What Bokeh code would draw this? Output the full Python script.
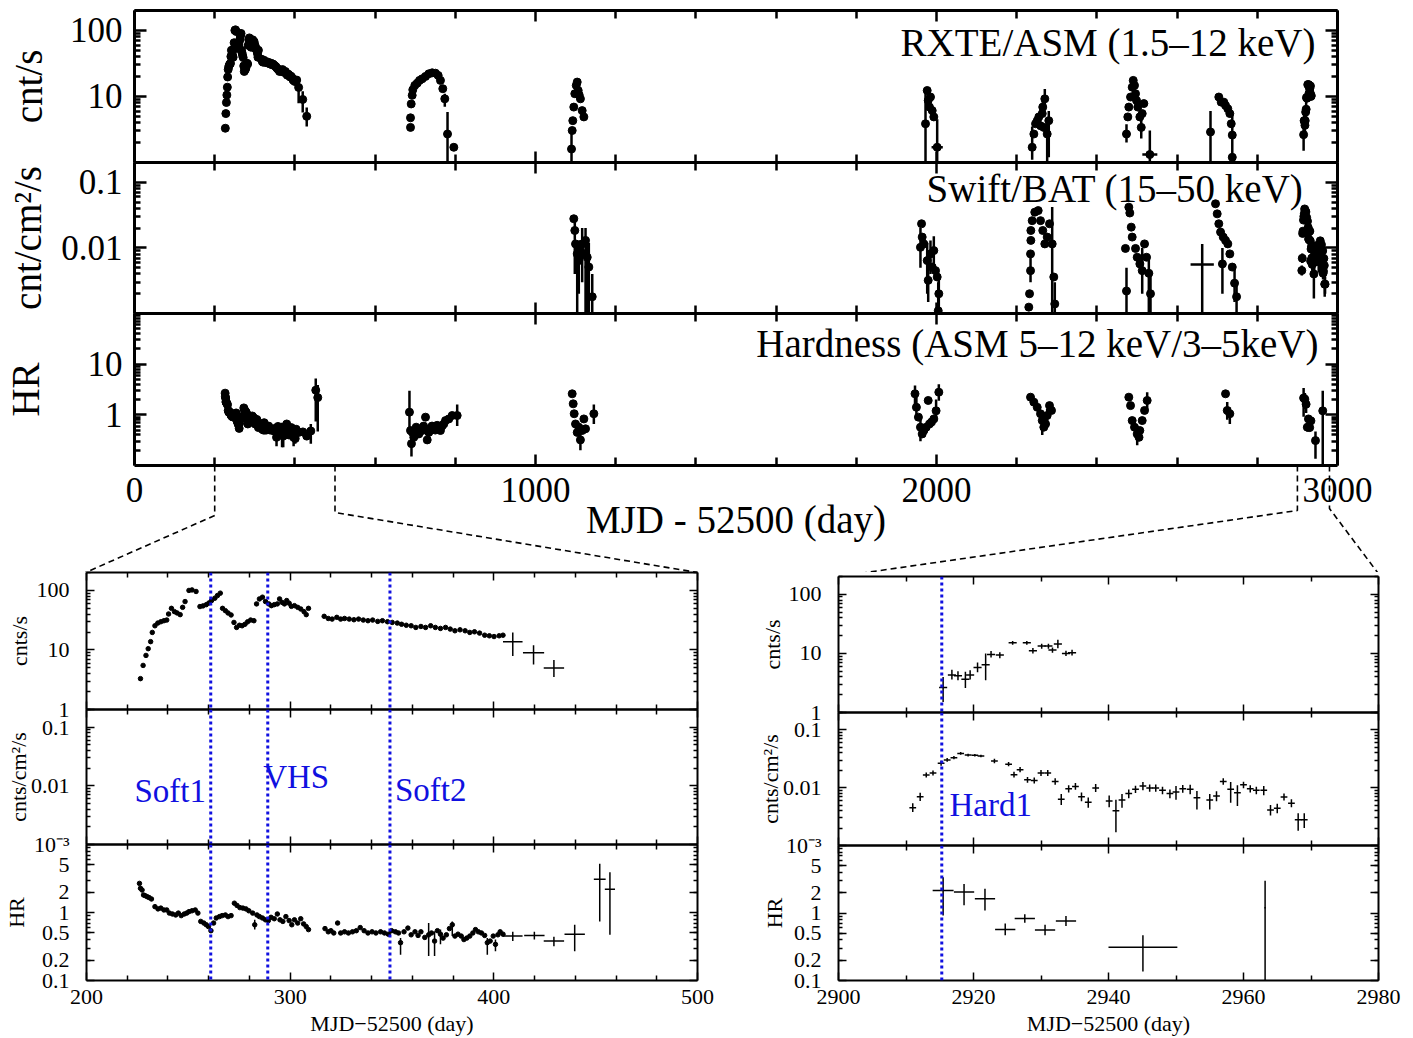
import math, json
from bokeh.plotting import figure
from bokeh.models import (Range1d, LogAxis, LinearAxis, FixedTicker, CustomJSTickFormatter,
                          Span, Label, LinearScale)
from bokeh.layouts import column, row
from bokeh.embed import file_html
from bokeh.resources import INLINE

FONT = "Liberation Serif"

# ======================= DATA =======================
# Outburst 1 (days 200-500), RXTE/ASM count rate (dots)
ob1_asm_day = [226.5, 227.8, 229.2, 230.3, 231.5, 232.3, 233.6, 235.0, 236.5, 238.0, 239.4, 240.3, 241.7,
               243.2, 244.5, 246.0, 247.2, 248.4, 250.3, 251.8, 253.8, 255.7, 257.2, 258.8, 260.1, 261.4,
               263.0, 264.3, 265.7, 266.8, 268.2, 269.5, 271.0, 272.4, 273.7, 275.1, 276.4, 277.8, 279.1,
               280.6, 282.2, 283.5, 284.9, 286.4, 287.9, 289.5, 290.8, 292.2, 293.7, 294.8, 296.0, 297.2,
               298.3, 299.5, 300.6, 302.1, 303.7, 305.2, 306.8, 307.9, 309.0,
               316.7, 318.7, 320.6, 322.9, 324.8, 326.7, 329.0, 331.3, 333.6, 335.9, 338.2, 340.5, 343.0,
               345.3, 347.8, 350.1, 352.6, 354.7, 357.0, 359.4, 361.7, 364.2, 366.5, 369.0, 371.3, 373.8,
               376.3, 378.6, 380.9, 383.4, 385.9, 388.2, 390.5, 393.0, 395.5, 397.8, 400.1, 402.6, 404.5]
ob1_asm_rate = [3.3, 5.5, 8.1, 10.5, 13.8, 19.7, 25.5, 28.3, 29.8, 31, 31.8, 40.2, 50,
                44, 41.8, 39.2, 52, 65, 100, 102, 96, 53.6, 55, 57.7, 61.5, 67.6,
                74, 82, 90, 50, 45.7, 41.8, 38.7, 29, 23.9, 26, 25.5, 27, 29.7,
                31.8, 31, 59.4, 72, 77, 65, 59.4, 55.5, 57.7, 59.4, 72, 63, 59.4,
                67.6, 61, 54, 55.5, 52, 48.8, 44, 39.2, 50,
                36.7, 33.8, 33, 35.3, 33, 33.8, 33, 32.2, 33, 31.8, 31, 31.8, 30.2,
                31, 29.8, 29, 28.3, 27, 26, 25.5, 23.9, 24.8, 23.9, 25.5, 23.9, 23,
                23.9, 22.4, 21, 21.8, 21, 19.7, 20.2, 19.2, 17.7, 17.3, 16.8, 17.3, 17.7]
# Outburst 1 ASM binned points (crosses)
ob1_asmx_day = [409.3, 419.5, 429.5]
ob1_asmx_rate = [13.7, 9.0, 5.0]
ob1_asmx_dday = [4.8, 5.2, 5.0]
ob1_asmx_lo = [7.9, 5.7, 3.5]
ob1_asmx_hi = [19.7, 12.0, 6.8]

# Outburst 1 hardness ratio (dots)
ob1_hr_day = [226.0, 226.5, 227.3, 228.0, 228.8, 229.8, 230.7, 231.9, 233.6, 235.1, 236.5, 238.0, 239.4,
              240.7, 242.2, 243.8, 245.1, 246.5, 248.0, 249.2, 250.3, 251.8, 253.4, 254.7, 256.1, 257.6,
              258.8, 259.9, 261.1, 262.4, 263.7, 265.3, 266.6, 268.2, 269.5, 271.0, 272.6, 273.9, 275.3,
              276.8, 278.3, 279.7, 281.6, 282.6, 283.7, 284.9, 286.4, 287.9, 289.3, 290.6, 292.2, 293.7,
              295.0, 296.4, 297.9, 299.5, 300.8, 302.1, 303.7, 305.2, 306.6, 307.9, 309.0,
              317.1, 318.7, 320.0, 321.4, 323.3, 324.8, 326.7, 328.6, 330.6, 332.5, 334.4, 336.3, 338.2,
              340.2, 342.1, 344.4, 346.3, 348.2, 349.8, 351.7, 353.2, 354.2, 355.9, 357.8, 359.4, 361.3,
              362.8, 364.2, 366.1, 368.0, 369.4, 370.9, 372.3, 373.8, 375.1, 376.7, 378.2, 379.6, 380.9,
              382.4, 384.0, 385.3, 386.7, 388.2, 389.7, 391.0, 392.4, 393.9, 395.5, 396.8, 398.2, 399.7,
              400.8, 402.0, 403.1, 404.5]
ob1_hr_val = [2.68, 2.27, 2.14, 1.81, 1.77, 1.71, 1.66, 1.58, 1.22, 1.13, 1.16, 1.09, 1.09,
              0.98, 0.95, 0.92, 0.98, 0.90, 0.95, 0.98, 1.03, 1.06, 1.09, 0.98, 0.74, 0.70,
              0.66, 0.62, 0.54, 0.70, 0.83, 0.87, 0.90, 0.92, 0.87, 0.90, 1.37, 1.27, 1.18,
              1.16, 1.13, 1.06, 0.98, 0.66, 0.92, 0.87, 0.83, 0.78, 0.76, 0.85, 0.81, 0.95,
              0.78, 0.74, 0.87, 0.76, 0.66, 0.78, 0.70, 0.81, 0.68, 0.62, 0.56,
              0.58, 0.52, 0.54, 0.50, 0.70, 0.50, 0.52, 0.50, 0.52, 0.54, 0.60, 0.54, 0.50,
              0.52, 0.50, 0.52, 0.50, 0.48, 0.54, 0.52, 0.50, 0.36, 0.52, 0.59, 0.47, 0.52,
              0.46, 0.52, 0.43, 0.47, 0.50, 0.38, 0.54, 0.48, 0.42, 0.47, 0.58, 0.66, 0.45,
              0.48, 0.45, 0.40, 0.42, 0.45, 0.50, 0.56, 0.52, 0.50, 0.46, 0.36, 0.38, 0.45,
              0.34, 0.47, 0.52, 0.48]
ob1_hrbar_day = [282.6, 354.2, 368.0, 370.9, 373.8, 379.6, 396.8, 400.8]
ob1_hrbar_lo = [0.56, 0.24, 0.23, 0.23, 0.34, 0.45, 0.24, 0.27]
ob1_hrbar_hi = [0.78, 0.42, 0.70, 0.53, 0.56, 0.74, 0.42, 0.40]
ob1_hrx_day = [409.3, 419.9, 429.5, 439.7, 452.0, 457.0]
ob1_hrx_val = [0.45, 0.46, 0.38, 0.48, 3.07, 2.19]
ob1_hrx_dday = [4.8, 5.0, 5.0, 5.0, 2.9, 2.5]
ob1_hrx_lo = [0.38, 0.40, 0.32, 0.27, 0.74, 0.47]
ob1_hrx_hi = [0.52, 0.52, 0.44, 0.66, 5.2, 3.9]

# Outburst 8 (days 2900-2980), ASM (crosses)
ob8_asm_day = [2915.5, 2916.8, 2917.7, 2918.8, 2919.5, 2920.6, 2921.8, 2922.6, 2923.9, 2925.8, 2927.9,
               2928.8, 2930.1, 2931.1, 2931.7, 2932.5, 2933.7, 2934.6]
ob8_asm_rate = [2.64, 4.3, 4.2, 3.65, 4.3, 5.8, 6.4, 9.6, 9.4, 15.1, 15.1, 11.1, 13.3, 13.3, 11.4, 14.4, 10.0, 10.3]
ob8_asm_lo = [1.5, 3.6, 3.5, 2.6, 3.6, 4.8, 3.5, 8.5, 8.3, 14.0, 14.0, 10.0, 12.0, 12.0, 10.3, 12.2, 9.0, 9.2]
ob8_asm_hi = [4.0, 5.3, 5.0, 4.9, 5.2, 7.0, 10.0, 11.0, 10.5, 16.2, 16.2, 12.3, 14.6, 14.6, 12.6, 17.0, 11.1, 11.5]
ob8_asm_dday = [0.6, 0.6, 0.6, 0.6, 0.6, 0.6, 0.6, 0.6, 0.6, 0.6, 0.6, 0.6, 0.6, 0.6, 0.6, 0.6, 0.6, 0.6]

# Outburst 8, Swift/BAT (crosses)
ob8_bat_day = [2911.0, 2912.1, 2913.0, 2914.0, 2915.2, 2916.1, 2917.1, 2918.1, 2919.2, 2920.2, 2921.1,
               2923.1, 2925.2, 2926.0, 2926.9, 2928.0, 2929.0, 2930.0, 2931.0, 2932.1, 2933.0, 2934.1,
               2935.1, 2936.0, 2937.0, 2938.1, 2940.1, 2941.1, 2942.0, 2943.0, 2944.0, 2945.1, 2946.1,
               2947.0, 2948.0, 2949.1, 2950.0, 2951.0, 2952.1, 2953.1, 2955.0, 2956.0, 2957.0, 2958.1,
               2959.1, 2960.0, 2961.0, 2961.9, 2963.0, 2964.0, 2965.0, 2966.0, 2967.1, 2968.1, 2969.0]
ob8_bat_flux = [0.00452, 0.00695, 0.0166, 0.0180, 0.0265, 0.0302, 0.0330, 0.0392, 0.0367, 0.0363, 0.0353,
                0.0290, 0.0255, 0.0168, 0.0205, 0.0137, 0.0133, 0.0180, 0.0180, 0.0128, 0.0063, 0.0096,
                0.0105, 0.0070, 0.0056, 0.0099, 0.0059, 0.0040, 0.0061, 0.0079, 0.0094, 0.0107, 0.0099,
                0.0099, 0.0090, 0.0079, 0.0084, 0.0096, 0.0094, 0.0067, 0.0061, 0.0072, 0.0128, 0.0094,
                0.0082, 0.0112, 0.0096, 0.0090, 0.0090, 0.0041, 0.0044, 0.0069, 0.0054, 0.0028, 0.0028]
ob8_bat_lo = [0.0038, 0.0059, 0.0150, 0.0163, 0.0240, 0.0280, 0.0310, 0.0370, 0.0348, 0.0345, 0.0335,
              0.0265, 0.0235, 0.0150, 0.0185, 0.0122, 0.0118, 0.0160, 0.0160, 0.0113, 0.0050, 0.0083,
              0.0092, 0.0058, 0.0045, 0.0084, 0.0046, 0.0017, 0.0045, 0.0066, 0.0081, 0.0090, 0.0085,
              0.0085, 0.0077, 0.0066, 0.0062, 0.0082, 0.0077, 0.0042, 0.0042, 0.0058, 0.0112, 0.0055,
              0.0048, 0.0098, 0.0083, 0.0077, 0.0074, 0.0033, 0.0036, 0.0060, 0.0046, 0.0018, 0.0020]
ob8_bat_hi = [0.0054, 0.0082, 0.0183, 0.0198, 0.0292, 0.0325, 0.0352, 0.0415, 0.0387, 0.0382, 0.0372,
              0.0317, 0.0277, 0.0188, 0.0227, 0.0153, 0.0150, 0.0202, 0.0202, 0.0145, 0.0078, 0.0110,
              0.0120, 0.0083, 0.0068, 0.0116, 0.0073, 0.0062, 0.0078, 0.0093, 0.0108, 0.0125, 0.0114,
              0.0114, 0.0104, 0.0093, 0.0107, 0.0111, 0.0112, 0.0088, 0.0078, 0.0087, 0.0145, 0.0125,
              0.0110, 0.0127, 0.0110, 0.0104, 0.0107, 0.0050, 0.0053, 0.0079, 0.0063, 0.0036, 0.0036]
ob8_bat_dday = [0.5] * len(ob8_bat_day)

# Outburst 8, hardness ratio (crosses)
ob8_hr_day = [2915.5, 2918.6, 2921.7, 2924.7, 2927.6, 2930.6, 2933.7, 2945.1, 2963.2]
ob8_hr_val = [2.15, 2.04, 1.62, 0.57, 0.83, 0.56, 0.76, 0.31, 1.2]
ob8_hr_dday = [1.55, 1.5, 1.5, 1.5, 1.5, 1.5, 1.5, 5.1, 0.1]
ob8_hr_lo = [0.92, 1.3, 1.09, 0.47, 0.72, 0.47, 0.64, 0.136, 0.1]
ob8_hr_hi = [3.4, 2.7, 2.28, 0.70, 0.96, 0.67, 0.90, 0.47, 3.0]

# Outbursts 2-7, overview panel: ASM
asm_day = [688.3, 688.3, 690.0, 692.5, 694.0, 699.0, 705.0, 710.8, 717.5, 725.7, 734.0, 742.4, 750.6,
           757.3, 763.0, 768.8, 773.8, 780.6, 796.3,
           1089.8, 1091.5, 1093.0, 1095.5, 1098.0, 1101.6, 1104.0, 1106.5, 1109.0, 1112.0, 1116.4, 1120.6,
           1972.6, 1976.8, 1979.3, 1982.5, 1985.0, 1989.3, 1993.3,
           2238.6, 2242.8, 2247.0, 2251.2, 2255.2, 2259.4, 2263.7, 2265.0, 2267.6, 2270.1, 2276.0, 2280.0,
           2473.8, 2477.1, 2479.6, 2483.9, 2488.0, 2490.6, 2493.8, 2496.3, 2498.8, 2502.1, 2507.1, 2510.6,
           2513.0, 2517.1,
           2683.3, 2704.0, 2710.0, 2716.5, 2720.8, 2726.5, 2731.5, 2735.0, 2737.6, 2737.6]
asm_rate = [4.75, 3.4, 7.7, 10.4, 12.6, 14.7, 15.9, 17.5, 18.5, 20.1, 22.0, 22.8, 22.5,
            20.8, 17.5, 13.1, 9.2, 2.7, 1.7,
            1.6, 3.05, 4.3, 6.9, 11.0, 14.7, 16.5, 12.3, 10.5, 9.2, 6.1, 4.9,
            3.86, 12.3, 8.7, 6.9, 9.8, 6.1, 4.9,
            1.7, 2.7, 3.86, 4.3, 4.9, 3.6, 5.5, 6.9, 3.4, 9.2, 2.7, 4.3,
            2.7, 4.9, 6.9, 9.8, 13.8, 17.5, 14.7, 11.0, 8.7, 6.9, 4.9, 3.4,
            5.5, 7.8,
            2.9, 9.8, 8.2, 8.2, 7.3, 6.5, 5.5, 3.86, 2.6, 1.2]
asmbar_day = [773.8, 780.6, 1089.8, 1972.6, 2238.6, 2265.0, 2270.1, 2276.0, 2280.0, 2473.8, 2510.6, 2683.3, 2737.6]
asmbar_lo = [7.0, 1.0, 1.0, 1.0, 1.1, 5.5, 6.1, 1.0, 1.2, 2.0, 2.3, 1.0, 1.0]
asmbar_hi = [11.0, 5.8, 3.0, 13.0, 3.5, 8.5, 13.0, 4.3, 6.0, 3.8, 4.9, 6.0, 5.5]
asmx_day = [2001.7, 2532.0]
asmx_rate = [1.7, 1.32]
asmx_dday = [14.0, 18.7]
asmx_lo = [1.0, 1.0]
asmx_hi = [4.5, 3.05]

# Outbursts 3-7, overview panel: BAT
bat_day = [1095.5, 1098.0, 1099.8, 1104.0, 1108.0, 1112.0, 1116.4, 1120.6, 1124.8, 1129.0, 1133.0, 1141.5,
           1960.0, 1962.7, 1964.3, 1968.5, 1976.8, 1979.3, 1985.0, 1989.3, 1993.3, 1997.6, 2001.7, 2004.3, 2005.8,
           2230.2, 2232.0, 2234.5, 2234.5, 2235.3, 2235.3, 2238.6, 2245.1, 2253.6, 2259.4, 2265.0, 2270.1,
           2276.0, 2281.8, 2288.5, 2292.5, 2295.0,
           2471.2, 2473.8, 2479.6, 2482.1, 2485.6, 2488.0, 2496.3, 2500.5, 2507.1, 2513.0, 2518.8, 2523.8,
           2529.5, 2533.7,
           2695.8, 2700.0, 2704.0, 2708.4, 2713.0, 2715.0, 2720.8, 2726.5, 2731.5, 2737.6, 2743.3, 2748.3]
bat_flux = [0.0278, 0.0184, 0.0115, 0.0081, 0.0064, 0.009, 0.0115, 0.0081, 0.013, 0.0072, 0.0051, 0.0018,
            0.0102, 0.0233, 0.0146, 0.0115, 0.0064, 0.0032, 0.0081, 0.0051, 0.0091, 0.0045, 0.0036, 0.0011, 0.002,
            0.00125, 0.002, 0.0045, 0.0081, 0.013, 0.0184, 0.026, 0.035, 0.037, 0.026, 0.0184, 0.0115,
            0.0146, 0.0233, 0.0115, 0.0036, 0.0014,
            0.0098, 0.0022, 0.0417, 0.034, 0.0207, 0.0146, 0.0098, 0.0072, 0.0057, 0.0045, 0.0115, 0.0072,
            0.0041, 0.002,
            0.047, 0.033, 0.0233, 0.0174, 0.0057, 0.0146, 0.013, 0.0115, 0.0081, 0.0051, 0.0029, 0.0018]
batbar_day = [1098.0, 1104.0, 1108.0, 1116.4, 1124.8, 1129.0, 1133.0, 1141.5,
              1960.0, 1976.8, 1979.3, 1985.0, 1993.3, 2004.3, 2005.8,
              2234.5, 2288.5, 2295.0,
              2473.8, 2513.0, 2529.5, 2533.7,
              2713.0, 2743.3, 2748.3]
batbar_lo = [0.004, 0.001, 0.002, 0.003, 0.001, 0.001, 0.001, 0.001,
             0.005, 0.002, 0.0015, 0.004, 0.004, 0.001, 0.001,
             0.003, 0.001, 0.001,
             0.001, 0.002, 0.001, 0.001,
             0.002, 0.0015, 0.001]
batbar_hi = [0.03, 0.0115, 0.013, 0.02, 0.02, 0.013, 0.012, 0.004,
             0.02, 0.012, 0.006, 0.013, 0.015, 0.003, 0.004,
             0.007, 0.042, 0.003,
             0.005, 0.01, 0.007, 0.004,
             0.01, 0.005, 0.003]
batx_day = [2662.6]
batx_flux = [0.0056]
batx_dday = [29.0]
batx_lo = [0.001]
batx_hi = [0.0115]

# Outbursts 2-7, overview panel: hardness ratio
hr_day = [685.7, 688.3, 690.7, 693.0, 696.5, 700.0, 702.4, 709.0, 712.0, 717.5, 721.0, 725.7, 730.0, 734.0,
          738.0, 742.0, 746.4, 750.0, 754.8, 759.0, 763.0, 767.0, 771.3, 775.6, 783.8, 792.2, 804.7,
          1091.5, 1094.0, 1096.5, 1099.8, 1104.0, 1108.0, 1112.0, 1116.4, 1120.6, 1124.8, 1145.5,
          1946.4, 1949.9, 1954.9, 1960.0, 1964.3, 1968.5, 1974.4, 1979.3, 1982.5, 1987.6, 1993.3, 1999.0, 2005.8,
          2234.5, 2242.8, 2251.2, 2259.4, 2263.7, 2267.6, 2272.0, 2276.0, 2281.8, 2286.8,
          2479.6, 2483.9, 2488.0, 2493.8, 2500.5, 2505.0, 2507.1, 2513.0, 2518.8, 2525.4,
          2720.8, 2725.0, 2731.5]
hr_val = [1.13, 0.49, 0.27, 0.45, 0.36, 0.40, 0.57, 0.42, 0.52, 0.49, 0.60, 0.90, 0.32, 0.45,
          0.53, 0.60, 0.57, 0.50, 0.62, 0.55, 0.49, 0.60, 0.66, 0.77, 0.83, 0.97, 0.97,
          2.6, 1.65, 1.05, 0.66, 0.45, 0.57, 0.32, 0.49, 0.83, 0.53, 1.05,
          2.6, 1.41, 0.9, 0.57, 0.42, 0.49, 0.57, 1.92, 0.66, 0.72, 0.83, 1.2, 2.8,
          2.23, 1.78, 1.41, 1.05, 0.77, 0.57, 0.66, 0.97, 1.52, 1.22,
          2.23, 1.52, 0.77, 0.57, 0.42, 0.36, 0.49, 0.77, 1.22, 1.92,
          2.6, 1.22, 1.05]
hrbar_day = [685.7, 690.7, 804.7, 1112.0, 1145.5, 1946.4, 1949.9, 1960.0, 1999.0, 2005.8,
             2263.7, 2276.0, 2500.5, 2525.4, 2725.0, 2731.5]
hrbar_lo = [0.45, 0.15, 0.6, 0.2, 0.66, 1.5, 0.9, 0.3, 0.9, 1.9, 0.4, 0.6, 0.25, 1.2, 0.8, 0.66]
hrbar_hi = [3.0, 0.5, 1.6, 0.5, 1.6, 3.8, 2.6, 1.0, 2.0, 4.0, 1.0, 1.3, 0.6, 2.8, 1.8, 1.4]

# state boundaries (days)
state_left_days = [261.0, 289.0, 349.0]
state_right_days = [2915.3]

# tick labels
top_x_ticks = [0, 1000, 2000, 3000]
top_x_labels = ["0", "1000", "2000", "3000"]
top_asm_ticks, top_asm_labels = [10, 100], ["10", "100"]
top_bat_ticks, top_bat_labels = [0.01, 0.1], ["0.01", "0.1"]
top_hr_ticks, top_hr_labels = [1, 10], ["1", "10"]
bl_x_ticks, bl_x_labels = [200, 300, 400, 500], ["200", "300", "400", "500"]
br_x_ticks, br_x_labels = [2900, 2920, 2940, 2960, 2980], ["2900", "2920", "2940", "2960", "2980"]
z_asm_ticks, z_asm_labels = [1, 10, 100], ["1", "10", "100"]
z_bat_ticks, z_bat_labels = [0.001, 0.01, 0.1], ["10\u207b\u00b3", "0.01", "0.1"]
z_hr_ticks, z_hr_labels = [0.1, 0.2, 0.5, 1, 2, 5], ["0.1", "0.2", "0.5", "1", "2", "5"]

# ======================= LAYOUT (page pixels) =======================
PAGE_W = 1413
T_L, T_R = 134, 1337
T_ASM, T_BAT, T_HR = (10, 162), (162, 313), (313, 465)
B_TOP, B_BOTTOM = 572, 1038
BL_BANDS = [(572, 709), (709, 844), (844, 981)]
BR_BANDS = [(576, 712), (712, 845), (845, 981)]
SPLIT = 745
BL_L, BL_R = 85, 697
BR_L, BR_R = 838, 1378
OV, TB = 14, 6

def px2lin(px, a, b, lo, hi):
    return lo + (px - a) * (hi - lo) / (b - a)

def px2log(py, top, bot, lo, hi):
    f = (bot - py) / (bot - top)
    return 10 ** (math.log10(lo) + f * (math.log10(hi) - math.log10(lo)))

def decade_minors(lo_exp, hi_exp, extra=()):
    out = []
    for e in range(lo_exp, hi_exp):
        out += [k * 10.0 ** e for k in range(2, 10)]
    return out + list(extra)

def fmt(ticks, labels):
    code = ("const t = %s; const l = %s;\n"
            "for (let i = 0; i < t.length; i++) {"
            " if (Math.abs(tick - t[i]) <= 1e-9 * Math.max(1, Math.abs(t[i]))) { return l[i]; } }\n"
            "return '';") % (json.dumps(ticks), json.dumps(labels, ensure_ascii=False))
    return CustomJSTickFormatter(code=code)

def make_panel(width, left, right, frame_h, top, bottom, mt, xr, yr):
    p = figure(width=width, height=top + frame_h + bottom, x_range=Range1d(*xr), y_range=Range1d(*yr),
               y_axis_type="log", x_axis_location=None, y_axis_location=None,
               toolbar_location=None, output_backend="svg",
               min_border_left=left, min_border_right=right, min_border_top=top, min_border_bottom=bottom)
    p.margin = (mt, 0, 0, 0)
    p.border_fill_alpha = 0
    p.background_fill_alpha = 0
    p.outline_line_color = None
    p.grid.visible = False
    return p

def style_axis(ax, S, maj, mnr):
    ax.axis_line_width = S["lw"]
    ax.axis_line_color = "black"
    ax.major_tick_in = maj
    ax.major_tick_out = 0
    ax.minor_tick_in = mnr
    ax.minor_tick_out = 0
    ax.major_tick_line_width = S["tlw"]
    ax.minor_tick_line_width = S["tlw"]
    ax.major_tick_line_color = "black"
    ax.minor_tick_line_color = "black"
    ax.major_label_text_font = FONT
    ax.major_label_text_color = "black"
    ax.axis_label_text_font = FONT
    ax.axis_label_text_font_style = "normal"
    ax.axis_label_text_color = "black"

def hide_labels(ax):
    ax.formatter = fmt([], [])
    ax.major_label_text_font_size = "0px"
    ax.major_label_standoff = 0
    ax.axis_label = None

def add_axes(p, S, xt, xm, xl, yt, ym, yl, ytitle, ystand, xtitle=None, xstand=0):
    for loc in ("left", "right"):
        ax = LogAxis(ticker=FixedTicker(ticks=yt, minor_ticks=ym))
        style_axis(ax, S, S["ymaj"], S["ymin"])
        if loc == "left":
            ax.formatter = fmt(yt, yl)
            ax.major_label_text_font_size = S["tick_fs"]
            ax.major_label_standoff = S["yso"]
            ax.axis_label = ytitle
            ax.axis_label_standoff = ystand
            ax.axis_label_text_font_size = S["title_fs"]
        else:
            hide_labels(ax)
        p.add_layout(ax, loc)
    for loc in ("below", "above"):
        ax = LinearAxis(ticker=FixedTicker(ticks=xt, minor_ticks=xm))
        style_axis(ax, S, S["xmaj"], S["xmin"])
        if loc == "below" and xtitle is not None:
            ax.formatter = fmt(xt, xl)
            ax.major_label_text_font_size = S["tick_fs"]
            ax.major_label_standoff = S["xso"]
            ax.axis_label = xtitle
            ax.axis_label_standoff = xstand
            ax.axis_label_text_font_size = S["title_fs"]
        else:
            hide_labels(ax)
        p.add_layout(ax, loc)

def dots(p, x, y, size):
    p.scatter(x=x, y=y, size=size, marker="circle", fill_color="black", line_color="black")

def vbars(p, x, lo, hi, lw):
    p.segment(x0=x, y0=lo, x1=x, y1=hi, line_color="black", line_width=lw)

def crosses(p, x, y, dx, lo, hi, lw):
    vbars(p, x, lo, hi, lw)
    p.segment(x0=[a - b for a, b in zip(x, dx)], y0=y, x1=[a + b for a, b in zip(x, dx)], y1=y,
              line_color="black", line_width=lw)

ST = dict(lw=3, tlw=2.5, xmaj=11, xmin=8, ymaj=12, ymin=6, tick_fs="35px", title_fs="39px", yso=12, xso=12)
SB = dict(lw=2, tlw=1.5, xmaj=8, xmin=5, ymaj=8, ymin=4, tick_fs="22px", title_fs="22px", yso=17, xso=9)

top_xminor = [d for d in range(200, 3000, 200) if d % 1000 != 0]
TLB, TRB = T_L, PAGE_W - T_R

# ---------------- overview panels ----------------
top_asm = make_panel(PAGE_W, TLB, TRB, T_ASM[1] - T_ASM[0], T_ASM[0], OV, 0, (0, 3000), (1, 200))
add_axes(top_asm, ST, top_x_ticks, top_xminor, top_x_labels, top_asm_ticks, decade_minors(0, 2, [200]),
         top_asm_labels, "cnt/s", 17)
top_bat = make_panel(PAGE_W, TLB, TRB, T_BAT[1] - T_BAT[0], TB, OV, -(OV + TB), (0, 3000), (0.001, 0.2))
add_axes(top_bat, ST, top_x_ticks, top_xminor, top_x_labels, top_bat_ticks, decade_minors(-3, -1, [0.2]),
         top_bat_labels, "cnt/cm\u00b2/s", 9)
top_hr = make_panel(PAGE_W, TLB, TRB, T_HR[1] - T_HR[0], TB, B_TOP - T_HR[1], -(OV + TB), (0, 3000), (0.1, 100))
add_axes(top_hr, ST, top_x_ticks, top_xminor, top_x_labels, top_hr_ticks, decade_minors(-1, 2),
         top_hr_labels, "HR", 38, xtitle="MJD - 52500 (day)", xstand=-7)

TS, TLW = 8, 2.5
# ASM overview
dots(top_asm, ob1_asm_day, ob1_asm_rate, TS)
dots(top_asm, ob1_asmx_day, ob1_asmx_rate, TS)
crosses(top_asm, ob1_asmx_day, ob1_asmx_rate, ob1_asmx_dday, ob1_asmx_lo, ob1_asmx_hi, TLW)
dots(top_asm, asm_day, asm_rate, TS)
vbars(top_asm, asmbar_day, asmbar_lo, asmbar_hi, TLW)
dots(top_asm, asmx_day, asmx_rate, TS)
crosses(top_asm, asmx_day, asmx_rate, asmx_dday, asmx_lo, asmx_hi, TLW)
dots(top_asm, ob8_asm_day, ob8_asm_rate, TS)
vbars(top_asm, ob8_asm_day, ob8_asm_lo, ob8_asm_hi, TLW)
# BAT overview
dots(top_bat, bat_day, bat_flux, TS)
vbars(top_bat, batbar_day, batbar_lo, batbar_hi, TLW)
crosses(top_bat, batx_day, batx_flux, batx_dday, batx_lo, batx_hi, TLW)
dots(top_bat, ob8_bat_day, ob8_bat_flux, TS)
vbars(top_bat, ob8_bat_day, ob8_bat_lo, ob8_bat_hi, TLW)
# HR overview
dots(top_hr, ob1_hr_day, ob1_hr_val, TS)
vbars(top_hr, ob1_hrbar_day, ob1_hrbar_lo, ob1_hrbar_hi, TLW)
dots(top_hr, ob1_hrx_day, ob1_hrx_val, TS)
crosses(top_hr, ob1_hrx_day, ob1_hrx_val, ob1_hrx_dday, ob1_hrx_lo, ob1_hrx_hi, TLW)
dots(top_hr, hr_day, hr_val, TS)
vbars(top_hr, hrbar_day, hrbar_lo, hrbar_hi, TLW)
dots(top_hr, ob8_hr_day, ob8_hr_val, TS)
crosses(top_hr, ob8_hr_day, ob8_hr_val, ob8_hr_dday, ob8_hr_lo, ob8_hr_hi, TLW)

def tlabel(p, text, px, py, yband, yr, size="39px", color="black", align="right", xband=(T_L, T_R), xr=(0, 3000)):
    p.add_layout(Label(x=px2lin(px, xband[0], xband[1], *xr), y=px2log(py, yband[0], yband[1], *yr),
                       text=text, text_font=FONT, text_font_size=size, text_color=color,
                       text_align=align, text_baseline="middle"))

tlabel(top_asm, "RXTE/ASM (1.5\u201312 keV)", 1315, 42, T_ASM, (1, 200))
tlabel(top_bat, "Swift/BAT (15\u201350 keV)", 1303, 188, T_BAT, (0.001, 0.2))
tlabel(top_hr, "Hardness (ASM 5\u201312 keV/3\u20135keV)", 1318, 343, T_HR, (0.1, 100))

# zoom connectors (dashed), drawn in page-pixel y units below the overview
top_hr.extra_y_ranges = {"px": Range1d(start=T_HR[1], end=T_HR[0])}
top_hr.extra_y_scales = {"px": LinearScale()}
conn_xs = [[200, 200, px2lin(BL_L, T_L, T_R, 0, 3000)],
           [500, 500, px2lin(BL_R, T_L, T_R, 0, 3000)],
           [2900, 2900, px2lin(BR_L, T_L, T_R, 0, 3000)],
           [2980, 2980, px2lin(BR_R + 2, T_L, T_R, 0, 3000)]]
conn_ys = [[T_HR[1], 515, BL_BANDS[0][0]], [T_HR[1], 512, BL_BANDS[0][0]],
           [T_HR[1], 510, BR_BANDS[0][0]], [T_HR[1], 508, BR_BANDS[0][0]]]
top_hr.multi_line(xs=conn_xs, ys=conn_ys, y_range_name="px", line_color="black", line_width=1.6,
                  line_dash="6 4", level="overlay")

# ---------------- zoom panels ----------------
BLW = SPLIT
BRW = PAGE_W - SPLIT
bl_lb, bl_rb = BL_L, BLW - BL_L - (BL_R - BL_L)
br_lb, br_rb = BR_L - SPLIT, BRW - (BR_L - SPLIT) - (BR_R - BR_L)

def zoom_group(lb, rb, w, bands, xr, xt, xl, xm, stands):
    (a0, a1), (b0, b1), (h0, h1) = bands
    a = make_panel(w, lb, rb, a1 - a0, TB, OV, (a0 - B_TOP) - TB, xr, (1, 200))
    add_axes(a, SB, xt, xm, xl, z_asm_ticks, decade_minors(0, 2, [200]), z_asm_labels, "cnts/s", stands[0])
    b = make_panel(w, lb, rb, b1 - b0, TB, OV, -(OV + TB), xr, (0.001, 0.2))
    add_axes(b, SB, xt, xm, xl, z_bat_ticks, decade_minors(-3, -1, [0.2]), z_bat_labels, "cnts/cm\u00b2/s", stands[1])
    h = make_panel(w, lb, rb, h1 - h0, TB, B_BOTTOM - h1, -(OV + TB), xr, (0.1, 10))
    add_axes(h, SB, xt, xm, xl, z_hr_ticks, decade_minors(-1, 1), z_hr_labels, "HR", stands[2],
             xtitle="MJD\u221252500 (day)", xstand=4)
    return a, b, h

bl_asm, bl_bat, bl_hr = zoom_group(bl_lb, bl_rb, BLW, BL_BANDS, (200, 500), bl_x_ticks, bl_x_labels,
                                   [d for d in range(220, 500, 20) if d % 100 != 0], (2, -3, 10))
br_asm, br_bat, br_hr = zoom_group(br_lb, br_rb, BRW, BR_BANDS, (2900, 2980), br_x_ticks, br_x_labels,
                                   [2910, 2930, 2950, 2970], (1, -3, 4))

ZS, ZLW = 4.5, 1.5
dots(bl_asm, ob1_asm_day, ob1_asm_rate, ZS)
crosses(bl_asm, ob1_asmx_day, ob1_asmx_rate, ob1_asmx_dday, ob1_asmx_lo, ob1_asmx_hi, ZLW)
dots(bl_hr, ob1_hr_day, ob1_hr_val, ZS)
vbars(bl_hr, ob1_hrbar_day, ob1_hrbar_lo, ob1_hrbar_hi, ZLW)
crosses(bl_hr, ob1_hrx_day, ob1_hrx_val, ob1_hrx_dday, ob1_hrx_lo, ob1_hrx_hi, ZLW)

crosses(br_asm, ob8_asm_day, ob8_asm_rate, ob8_asm_dday, ob8_asm_lo, ob8_asm_hi, ZLW)
crosses(br_bat, ob8_bat_day, ob8_bat_flux, ob8_bat_dday, ob8_bat_lo, ob8_bat_hi, ZLW)
crosses(br_hr, ob8_hr_day, ob8_hr_val, ob8_hr_dday, ob8_hr_lo, ob8_hr_hi, ZLW)

BLUE = "#1010e0"
for fig in (bl_asm, bl_bat, bl_hr):
    for d in state_left_days:
        fig.add_layout(Span(location=d, dimension="height", line_color=BLUE, line_width=3, line_dash="3 3"))
for fig in (br_asm, br_bat, br_hr):
    for d in state_right_days:
        fig.add_layout(Span(location=d, dimension="height", line_color=BLUE, line_width=3, line_dash="3 3"))

tlabel(bl_bat, "Soft1", 133, 790, BL_BANDS[1], (0.001, 0.2), size="33px", color=BLUE, align="left",
       xband=(BL_L, BL_R), xr=(200, 500))
tlabel(bl_bat, "VHS", 262, 776, BL_BANDS[1], (0.001, 0.2), size="33px", color=BLUE, align="left",
       xband=(BL_L, BL_R), xr=(200, 500))
tlabel(bl_bat, "Soft2", 394, 789, BL_BANDS[1], (0.001, 0.2), size="33px", color=BLUE, align="left",
       xband=(BL_L, BL_R), xr=(200, 500))
tlabel(br_bat, "Hard1", 949, 804, BR_BANDS[1], (0.001, 0.2), size="33px", color=BLUE, align="left",
       xband=(BR_L, BR_R), xr=(2900, 2980))

layout = column(top_asm, top_bat, top_hr,
                row(column(bl_asm, bl_bat, bl_hr), column(br_asm, br_bat, br_hr)))

open("out.html", "w", encoding="utf-8").write(file_html(layout, INLINE))
